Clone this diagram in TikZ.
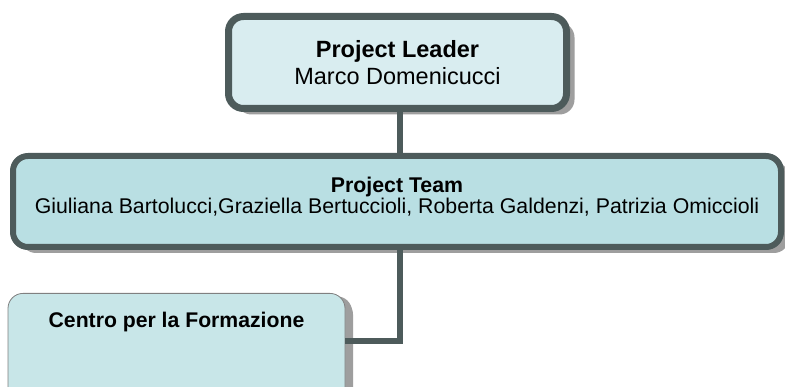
\documentclass[tikz,border=0pt]{standalone}
\usepackage{fontspec}
\setmainfont{Liberation Sans}
\usetikzlibrary{shadows}
\definecolor{boxline}{HTML}{4D5B5B}
\definecolor{leadfill}{HTML}{D9EDF0}
\definecolor{teamfill}{HTML}{B9DFE3}
\definecolor{formfill}{HTML}{C8E6E8}
\begin{document}
\begin{tikzpicture}[x=1pt,y=-1pt,
        orgbox/.style={rectangle,rounded corners=15pt,draw=boxline,inner sep=0pt,align=center,
          drop shadow={shadow xshift=8pt,shadow yshift=-6pt,fill=black!38,opacity=1}},
        link/.style={draw=boxline,line width=5.5pt}
        ]
    \path[use as bounding box,fill=white] (0,0) rectangle (785,387);

        \node (lead) at (397.5, 62.5) [orgbox,fill=leadfill,line width=7pt,minimum width=338pt,minimum height=92pt,
          font=\fontsize{23.5}{26.6}\selectfont] {\textbf{Project Leader}\\Marco Domenicucci};
        \node (team) at (397, 201.5) [orgbox,fill=teamfill,line width=6pt,minimum width=768pt,minimum height=91pt,
          font=\fontsize{21.3}{22.5}\selectfont] {\textbf{Project Team}\\[-1pt]Giuliana Bartolucci,Graziella Bertuccioli, Roberta Galdenzi, Patrizia Omiccioli\\[-10pt]};
        \node (centro) at (176.5, 293) [orgbox,anchor=north,fill=formfill,draw=gray,line width=0.8pt,minimum width=337pt,
          inner ysep=10pt,text height=24pt,text depth=90pt,
          drop shadow={shadow xshift=7pt,shadow yshift=-3pt,fill=black!38,opacity=1},
          font=\fontsize{21.2}{24}\selectfont\bfseries] {Centro per la Formazione};
        \coordinate (elbow) at (400, 341);
        \draw[link] (team.south -| elbow) -- (elbow) -- (elbow -| centro.east);
        \draw[link] (lead.south -| elbow) -- (team.north -| elbow);
      \end{tikzpicture}
\end{document}
